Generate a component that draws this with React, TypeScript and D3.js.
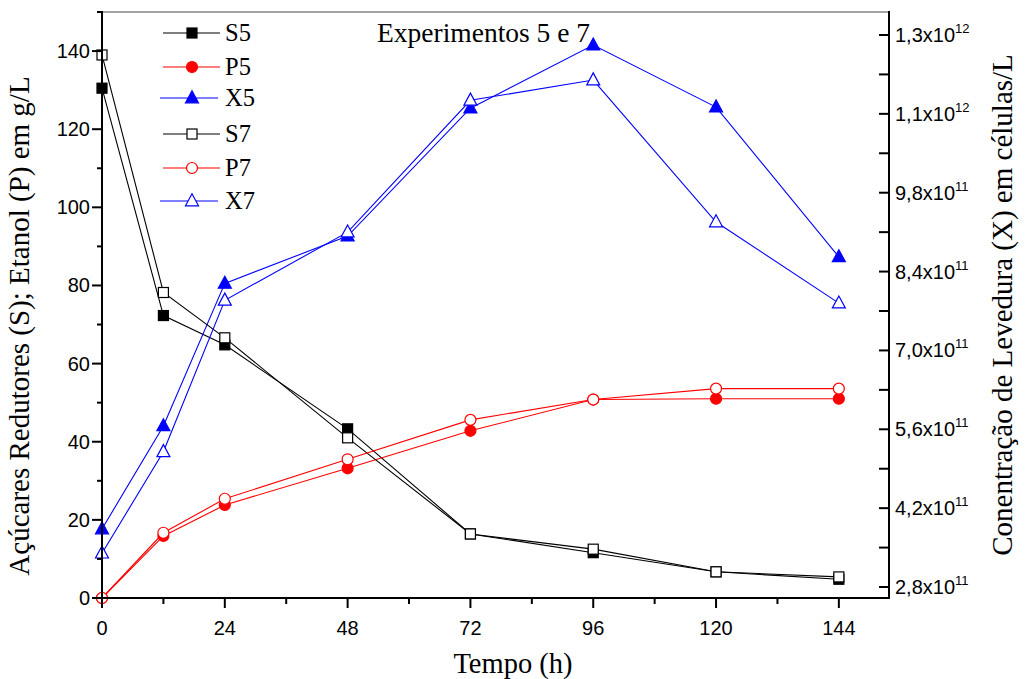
import React from "react";
import * as d3 from "d3";

const times = [0, 12, 24, 48, 72, 96, 120, 144];
const S5 = [130.5, 72.3, 64.8, 43.3, 16.4, 11.6, 6.7, 4.8];
const S7 = [139.0, 78.2, 66.6, 41.0, 16.4, 12.5, 6.7, 5.4];
const P5 = [0, 15.9, 23.8, 33.2, 42.8, 50.8, 51.0, 51.0];
const P7 = [0, 16.7, 25.4, 35.5, 45.6, 50.8, 53.6, 53.6];
const X5 = [3.83e11, 5.66e11, 8.19e11, 9.03e11, 11.3e11, 12.42e11, 11.32e11, 8.66e11];
const X7 = [3.4e11, 5.2e11, 7.89e11, 9.1e11, 11.44e11, 11.8e11, 9.28e11, 7.84e11];

const xTicks = [0, 24, 48, 72, 96, 120, 144];
const xMinor = [12, 36, 60, 84, 108, 132];
const yTicks = [0, 20, 40, 60, 80, 100, 120, 140];
const yMinor = [10, 30, 50, 70, 90, 110, 130, 150];
const rTicks = [2.8e11, 4.2e11, 5.6e11, 7.0e11, 8.4e11, 9.8e11, 11.2e11, 12.6e11];
const rTickLabels = [
  ["2,8x10", "11"], ["4,2x10", "11"], ["5,6x10", "11"], ["7,0x10", "11"],
  ["8,4x10", "11"], ["9,8x10", "11"], ["1,1x10", "12"], ["1,3x10", "12"],
];
const rMinor = [3.5e11, 4.9e11, 6.3e11, 7.7e11, 9.1e11, 10.5e11, 11.9e11];

const L = 102, R = 889, T = 12, B = 598;
const x = d3.scaleLinear().domain([0, 153.8]).range([L, R]);
const y = d3.scaleLinear().domain([0, 150]).range([B, T]);
const yr = d3.scaleLinear().domain([2.605e11, 13.008e11]).range([B, T]);

const BLUE = "#0000ff";
const RED = "#ff0000";

type Kind = "square" | "circle" | "triangle";

function Marker({ kind, cx, cy, color, filled }: { kind: Kind; cx: number; cy: number; color: string; filled: boolean }) {
  const fill = filled ? color : "#fff";
  if (kind === "square") return <rect x={cx - 5} y={cy - 5} width={10} height={10} fill={fill} stroke={color} strokeWidth={1.2} />;
  if (kind === "circle") return <circle cx={cx} cy={cy} r={5.5} fill={fill} stroke={color} strokeWidth={1.2} />;
  const h = 12, w = 13;
  return <path d={`M${cx},${cy - h * 0.6}L${cx + w / 2},${cy + h * 0.4}L${cx - w / 2},${cy + h * 0.4}Z`} fill={fill} stroke={color} strokeWidth={1.2} />;
}

const seriesDefs = [
  { name: "S5", data: S5, axis: "l", color: "#000", kind: "square" as Kind, filled: true },
  { name: "P5", data: P5, axis: "l", color: RED, kind: "circle" as Kind, filled: true },
  { name: "X5", data: X5, axis: "r", color: BLUE, kind: "triangle" as Kind, filled: true },
  { name: "S7", data: S7, axis: "l", color: "#000", kind: "square" as Kind, filled: false },
  { name: "P7", data: P7, axis: "l", color: RED, kind: "circle" as Kind, filled: false },
  { name: "X7", data: X7, axis: "r", color: BLUE, kind: "triangle" as Kind, filled: false },
];
const legendY = [33, 67, 98, 134, 168, 201];

export default function App() {
  const serif = "'Liberation Serif', 'Times New Roman', serif";
  const sans = "'Liberation Sans', Arial, sans-serif";
  return (
    <svg width={1025} height={679} style={{ position: "absolute", left: 0, top: 0, background: "#fff" }}>
      <rect width={1025} height={679} fill="#fff" />
      {seriesDefs.map((s) => {
        const sc = s.axis === "l" ? y : yr;
        const line = d3.line<number>().x((_, i) => x(times[i])).y((d) => sc(d));
        return <path key={s.name + "l"} d={line(s.data) || ""} fill="none" stroke={s.color} strokeWidth={1.1} />;
      })}
      {seriesDefs.map((s) => {
        const sc = s.axis === "l" ? y : yr;
        return (
          <g key={s.name + "m"}>
            {s.data.map((d, i) => (
              <Marker key={i} kind={s.kind} cx={x(times[i])} cy={sc(d)} color={s.color} filled={s.filled} />
            ))}
          </g>
        );
      })}
      <line x1={L} x2={R} y1={T} y2={T} stroke="#444" strokeWidth={1} />
      <line x1={L} x2={L} y1={T - 1} y2={B + 1} stroke="#000" strokeWidth={2} />
      <line x1={R} x2={R} y1={T - 1} y2={B + 1} stroke="#000" strokeWidth={2} />
      <line x1={L - 1} x2={R + 1} y1={B} y2={B} stroke="#000" strokeWidth={2} />
      {xTicks.map((t) => (
        <g key={"xt" + t}>
          <line x1={x(t)} x2={x(t)} y1={B} y2={B + 10} stroke="#000" strokeWidth={2} />
          <text x={x(t)} y={B + 37} textAnchor="middle" fontFamily={sans} fontSize={20}>{t}</text>
        </g>
      ))}
      {xMinor.map((t) => <line key={"xm" + t} x1={x(t)} x2={x(t)} y1={B} y2={B + 6} stroke="#000" strokeWidth={2} />)}
      {yTicks.map((t) => (
        <g key={"yt" + t}>
          <line x1={L - 10} x2={L} y1={y(t)} y2={y(t)} stroke="#000" strokeWidth={2} />
          <text x={L - 12} y={y(t) + 7} textAnchor="end" fontFamily={sans} fontSize={20}>{t}</text>
        </g>
      ))}
      {yMinor.map((t) => <line key={"ym" + t} x1={L - 5} x2={L} y1={y(t)} y2={y(t)} stroke="#000" strokeWidth={2} />)}
      {rTicks.map((t, i) => (
        <g key={"rt" + i}>
          <line x1={R - 10} x2={R} y1={yr(t)} y2={yr(t)} stroke="#000" strokeWidth={2} />
          <text x={R + 6} y={yr(t) + 7} fontFamily={sans} fontSize={20}>
            {rTickLabels[i][0]}
            <tspan fontSize={13} dy={-9}>{rTickLabels[i][1]}</tspan>
          </text>
        </g>
      ))}
      {rMinor.map((t, i) => <line key={"rm" + i} x1={R - 10} x2={R} y1={yr(t)} y2={yr(t)} stroke="#000" strokeWidth={2} />)}
      <text x={513} y={673} textAnchor="middle" fontFamily={serif} fontSize={28.5}>Tempo (h)</text>
      <text transform={`translate(29,326) rotate(-90)`} textAnchor="middle" fontFamily={serif} fontSize={29}>
        Açúcares Redutores (S); Etanol (P) em g/L
      </text>
      <text transform={`translate(1012,305) rotate(-90)`} textAnchor="middle" fontFamily={serif} fontSize={29}>
        Conentração de Levedura (X) em células/L
      </text>
      <text x={377} y={42} fontFamily={serif} fontSize={27.5}>Experimentos 5 e 7</text>
      {seriesDefs.map((s, i) => (
        <g key={"lg" + s.name}>
          <line x1={s.kind === "triangle" ? 160 : 163} x2={s.kind === "triangle" ? 218 : 220} y1={legendY[i]} y2={legendY[i]} stroke={s.color} strokeWidth={1.1} />
          <Marker kind={s.kind} cx={192} cy={legendY[i]} color={s.color} filled={s.filled} />
          <text x={225} y={legendY[i] + 8} fontFamily={serif} fontSize={24.5}>{s.name}</text>
        </g>
      ))}
    </svg>
  );
}
